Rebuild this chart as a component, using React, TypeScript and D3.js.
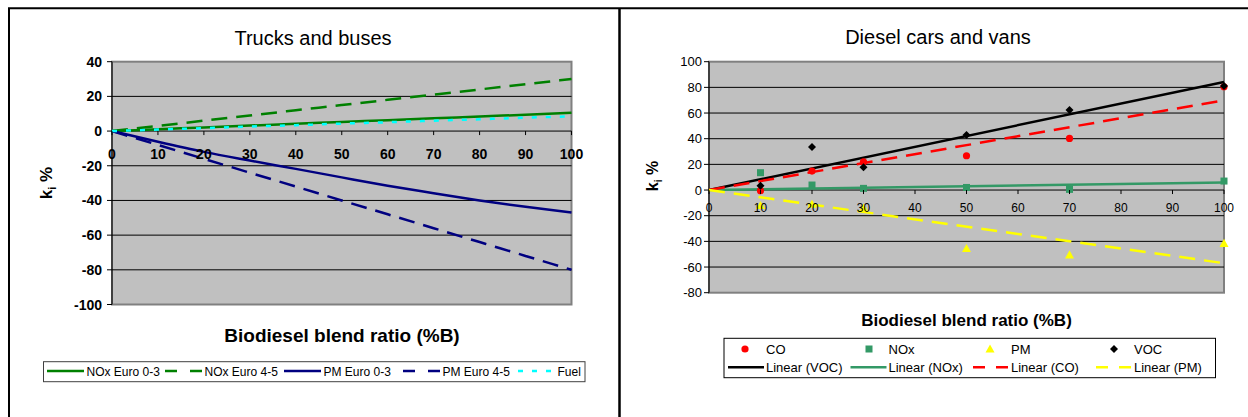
import React from "react";
import * as d3 from "d3";

// ---------- Left chart data (Trucks and buses) ----------
const blendSteps = [0, 10, 20, 30, 40, 50, 60, 70, 80, 90, 100];
const noxEuro03 = [0, 1.05, 2.1, 3.15, 4.2, 5.25, 6.3, 7.35, 8.4, 9.45, 10.5];
const noxEuro45 = [0, 3, 6, 9, 12, 15, 18, 21, 24, 27, 30];
const pmEuro03 = [0, -6.2, -12, -17, -21.8, -26.7, -31.5, -35.8, -40, -43.7, -47];
const pmEuro45 = [0, -8, -16, -24, -32, -40, -48, -56, -64, -72, -80];
const fuelSeries = [0, 0.85, 1.7, 2.6, 3.4, 4.3, 5.1, 6.0, 6.8, 7.7, 8.5];
const leftYTicks = [40, 20, 0, -20, -40, -60, -80, -100];
const xTicks = [0, 10, 20, 30, 40, 50, 60, 70, 80, 90, 100];

// ---------- Right chart data (Diesel cars and vans) ----------
const carBlends = [10, 20, 30, 50, 70, 100];
const coValues = [-0.5, 14.8, 22, 26.7, 40.2, 80.5];
const noxValues = [13.5, 3.9, 1.3, 2, 0.5, 7];
const pmValues = [-12, -11, -14, -45.5, -50.5, -41.5];
const vocValues = [3.4, 33.5, 17.7, 42.8, 62.3, 81];
const rightYTicks = [100, 80, 60, 40, 20, 0, -20, -40, -60, -80];
const trendRange = [0, 100];

const FONT = "'Liberation Sans', Arial, sans-serif";

type LeftSeries = { name: string; values: number[]; color: string; dash?: string; legendDash?: string };
const leftSeries: LeftSeries[] = [
  { name: "NOx Euro 0-3", values: noxEuro03, color: "#008000" },
  { name: "NOx Euro 4-5", values: noxEuro45, color: "#008000", dash: "16,9", legendDash: "12,13" },
  { name: "PM Euro 0-3", values: pmEuro03, color: "#000080" },
  { name: "PM Euro 4-5", values: pmEuro45, color: "#000080", dash: "16,9", legendDash: "12,13" },
  { name: "Fuel", values: fuelSeries, color: "#00FFFF", dash: "5,9", legendDash: "5,9" },
];

// slope of least squares line through origin (Excel trendline with intercept 0)
function slopeThroughOrigin(xs: number[], ys: number[]) {
  const sxy = d3.sum(xs, (x, i) => x * ys[i]);
  const sxx = d3.sum(xs, (x) => x * x);
  return sxy / sxx;
}

function LeftChart() {
  const x = d3.scaleLinear().domain([0, 100]).range([112, 571.5]);
  const y = d3.scaleLinear().domain([-100, 40]).range([304.5, 61.7]);
  const line = d3
    .line<number>()
    .x((_, i) => x(blendSteps[i]))
    .y((d) => y(d))
    .curve(d3.curveMonotoneX);
  const legendStarts = [47, 165, 284, 403, 518];
  return (
    <g>
      <text x={313} y={45} textAnchor="middle" fontSize={20} fontFamily={FONT}>
        Trucks and buses
      </text>
      <rect x={x(0)} y={y(40)} width={x(100) - x(0)} height={y(-100) - y(40)} fill="#C0C0C0" stroke="#808080" strokeWidth={2} />
      {leftYTicks.filter((t) => t !== 40 && t !== -100).map((t) => (
        <line key={t} x1={x(0)} x2={x(100)} y1={y(t)} y2={y(t)} stroke="#000" strokeWidth={1} />
      ))}
      <line x1={x(0)} x2={x(0)} y1={y(40)} y2={y(-100)} stroke="#000" strokeWidth={1} />
      {leftYTicks.map((t) => (
        <g key={t}>
          <line x1={x(0) - 5} x2={x(0)} y1={y(t)} y2={y(t)} stroke="#000" />
          <text x={102} y={y(t) + 5} textAnchor="end" fontSize={14} fontWeight="bold" fontFamily={FONT}>
            {t}
          </text>
        </g>
      ))}
      {leftSeries.map((s) => (
        <path key={s.name} d={line(s.values) || ""} fill="none" stroke={s.color} strokeWidth={2.5} strokeDasharray={s.dash} />
      ))}
      {xTicks.map((t) => (
        <g key={t}>
          <line x1={x(t)} x2={x(t)} y1={y(0)} y2={y(0) + 4} stroke="#000" />
          <text x={x(t)} y={159} textAnchor="middle" fontSize={14} fontWeight="bold" fontFamily={FONT}>
            {t}
          </text>
        </g>
      ))}
      <text transform={`translate(52,183) rotate(-90)`} textAnchor="middle" fontSize={17} fontWeight="bold" fontFamily={FONT}>
        k<tspan fontSize={11} dy={4}>i</tspan>
        <tspan dy={-4}> %</tspan>
      </text>
      <text x={342} y={342} textAnchor="middle" fontSize={19} fontWeight="bold" fontFamily={FONT}>
        Biodiesel blend ratio (%B)
      </text>
      <rect x={43.5} y={361.7} width={541.5} height={20} fill="#fff" stroke="#404040" strokeWidth={1} />
      {leftSeries.map((s, i) => (
        <g key={s.name}>
          <line x1={legendStarts[i]} x2={legendStarts[i] + 37} y1={371} y2={371} stroke={s.color} strokeWidth={2.5} strokeDasharray={s.legendDash} />
          <text x={legendStarts[i] + 39.5} y={375.5} fontSize={12} fontFamily={FONT}>
            {s.name}
          </text>
        </g>
      ))}
    </g>
  );
}

function Diamond({ cx, cy, r, fill }: { cx: number; cy: number; r: number; fill: string }) {
  return <path d={`M${cx},${cy - r}L${cx + r},${cy}L${cx},${cy + r}L${cx - r},${cy}Z`} fill={fill} />;
}
function Triangle({ cx, cy, r, fill }: { cx: number; cy: number; r: number; fill: string }) {
  return <path d={`M${cx},${cy - r}L${cx + r},${cy + r * 0.8}L${cx - r},${cy + r * 0.8}Z`} fill={fill} />;
}

function RightChart() {
  const x = d3.scaleLinear().domain([0, 100]).range([709, 1224]);
  const y = d3.scaleLinear().domain([-80, 100]).range([292.7, 61.7]);
  const trends = [
    { name: "Linear (VOC)", slope: slopeThroughOrigin(carBlends, vocValues), color: "#000000", dash: undefined as string | undefined },
    { name: "Linear (NOx)", slope: slopeThroughOrigin(carBlends, noxValues), color: "#339966", dash: undefined },
    { name: "Linear (CO)", slope: slopeThroughOrigin(carBlends, coValues), color: "#FF0000", dash: "16,9" },
    { name: "Linear (PM)", slope: slopeThroughOrigin(carBlends, pmValues), color: "#FFFF00", dash: "16,9" },
  ];
  const colX = [766, 888.5, 1011, 1134];
  return (
    <g>
      <text x={938} y={44} textAnchor="middle" fontSize={20} fontFamily={FONT}>
        Diesel cars and vans
      </text>
      <rect x={x(0)} y={y(100)} width={x(100) - x(0)} height={y(-80) - y(100)} fill="#C0C0C0" stroke="#808080" strokeWidth={2} />
      {rightYTicks.filter((t) => t !== 100 && t !== -80).map((t) => (
        <line key={t} x1={x(0)} x2={x(100)} y1={y(t)} y2={y(t)} stroke="#000" strokeWidth={1} />
      ))}
      <line x1={x(0)} x2={x(0)} y1={y(100)} y2={y(-80)} stroke="#000" strokeWidth={1} />
      {rightYTicks.map((t) => (
        <g key={t}>
          <line x1={x(0) - 5} x2={x(0)} y1={y(t)} y2={y(t)} stroke="#000" />
          <text x={702} y={y(t) + 4.5} textAnchor="end" fontSize={13} fontFamily={FONT}>
            {t}
          </text>
        </g>
      ))}
      {trends.map((t) => {
        const trendLine = d3
          .line<number>()
          .x((d) => x(d))
          .y((d) => y(d * t.slope));
        return (
          <path key={t.name} d={trendLine(trendRange) || ""} fill="none" stroke={t.color} strokeWidth={2.5} strokeDasharray={t.dash} />
        );
      })}
      {carBlends.map((b, i) => (
        <circle key={"co" + b} cx={x(b)} cy={y(coValues[i])} r={3.6} fill="#FF0000" />
      ))}
      {carBlends.map((b, i) => (
        <rect key={"nox" + b} x={x(b) - 3.5} y={y(noxValues[i]) - 3.5} width={7} height={7} fill="#339966" />
      ))}
      {carBlends.map((b, i) => (
        <Triangle key={"pm" + b} cx={x(b)} cy={y(pmValues[i])} r={4.5} fill="#FFFF00" />
      ))}
      {carBlends.map((b, i) => (
        <Diamond key={"voc" + b} cx={x(b)} cy={y(vocValues[i])} r={4} fill="#000000" />
      ))}
      {xTicks.map((t) => (
        <g key={t}>
          <line x1={x(t)} x2={x(t)} y1={y(0)} y2={y(0) + 4} stroke="#000" />
          <text x={x(t)} y={211.5} textAnchor="middle" fontSize={12} fontFamily={FONT}>
            {t}
          </text>
        </g>
      ))}
      <text transform={`translate(658,176) rotate(-90)`} textAnchor="middle" fontSize={16} fontWeight="bold" fontFamily={FONT}>
        k<tspan fontSize={10} dy={4}>i</tspan>
        <tspan dy={-4}> %</tspan>
      </text>
      <text x={966.5} y={326} textAnchor="middle" fontSize={17} fontWeight="bold" fontFamily={FONT}>
        Biodiesel blend ratio (%B)
      </text>
      <rect x={724} y={338.3} width={491.5} height={39.4} fill="#fff" stroke="#000" strokeWidth={1} />
      {/* legend row 1: markers */}
      <circle cx={colX[0] - 21} cy={349} r={3.6} fill="#FF0000" />
      <text x={colX[0]} y={353.5} fontSize={13} fontFamily={FONT}>CO</text>
      <rect x={colX[1] - 19.5 - 3.5} y={349 - 3.5} width={7} height={7} fill="#339966" />
      <text x={colX[1]} y={353.5} fontSize={13} fontFamily={FONT}>NOx</text>
      <Triangle cx={colX[2] - 21} cy={349} r={4.5} fill="#FFFF00" />
      <text x={colX[2]} y={353.5} fontSize={13} fontFamily={FONT}>PM</text>
      <Diamond cx={colX[3] - 20} cy={349} r={4} fill="#000000" />
      <text x={colX[3]} y={353.5} fontSize={13} fontFamily={FONT}>VOC</text>
      {/* legend row 2: trendlines */}
      {trends.map((t, i) => (
        <g key={t.name}>
          <line x1={colX[i] - 38} x2={colX[i] - 2} y1={367.3} y2={367.3} stroke={t.color} strokeWidth={2.5} strokeDasharray={t.dash ? "12,11" : undefined} />
          <text x={colX[i]} y={372} fontSize={13} fontFamily={FONT}>
            {t.name}
          </text>
        </g>
      ))}
    </g>
  );
}

export default function App() {
  return (
    <svg width={1248} height={417} style={{ position: "absolute", left: 0, top: 0, background: "#fff" }}>
      <rect x={0} y={0} width={1248} height={417} fill="#fff" />
      <line x1={8} x2={1248} y1={8.3} y2={8.3} stroke="#000" strokeWidth={2} />
      <line x1={9} x2={9} y1={8} y2={417} stroke="#000" strokeWidth={2} />
      <line x1={619.5} x2={619.5} y1={8} y2={417} stroke="#000" strokeWidth={2.5} />
      <LeftChart />
      <RightChart />
    </svg>
  );
}
